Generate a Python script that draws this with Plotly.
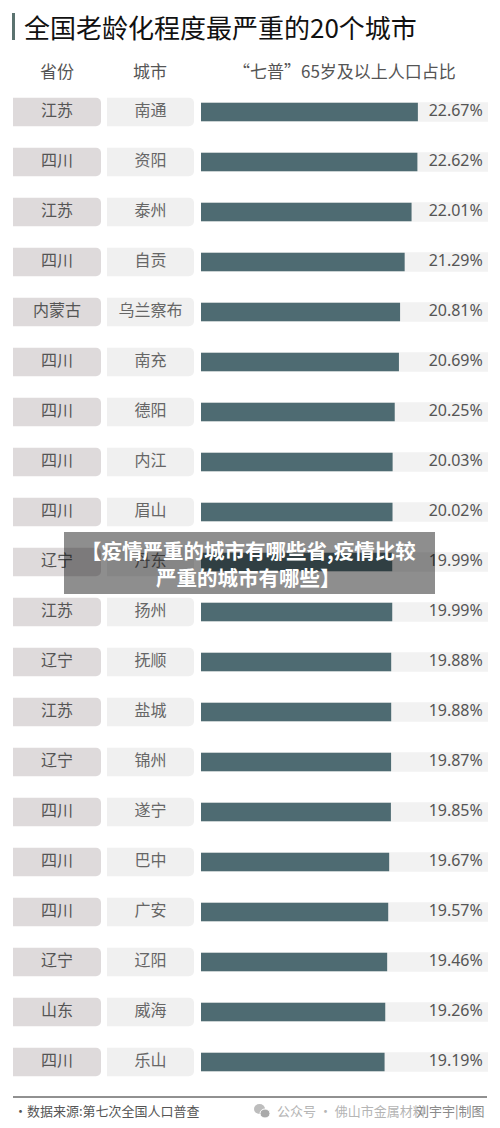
import plotly.graph_objects as go

title = "全国老龄化程度最严重的20个城市"
headers = ["省份", "城市", "“七普”65岁及以上人口占比"]
provinces = ["江苏", "四川", "江苏", "四川", "内蒙古", "四川", "四川", "四川", "四川", "辽宁",
             "江苏", "辽宁", "江苏", "辽宁", "四川", "四川", "四川", "辽宁", "山东", "四川"]
cities = ["南通", "资阳", "泰州", "自贡", "乌兰察布", "南充", "德阳", "内江", "眉山", "丹东",
          "扬州", "抚顺", "盐城", "锦州", "遂宁", "巴中", "广安", "辽阳", "威海", "乐山"]
values = [22.67, 22.62, 22.01, 21.29, 20.81, 20.69, 20.25, 20.03, 20.02, 19.99,
          19.99, 19.88, 19.88, 19.87, 19.85, 19.67, 19.57, 19.46, 19.26, 19.19]
axis_max = 30
source = "·数据来源:第七次全国人口普查"
credit1 = "公众号 · 佛山市金属材料"
credit2 = "刘宇宇|制图"
overlay_text = "【疫情严重的城市有哪些省,疫情比较<br>严重的城市有哪些】"

W, H = 500, 1128
FONT = "Noto Sans CJK SC"
n = len(cities)

def px(x):
    return x / W

def py(y):
    return 1 - y / H

# y axis: row i centered at 112 + 50*i px
y0 = -112 / 50
y1 = (H - 112) / 50

fig = go.Figure()

# province boxes
fig.add_trace(go.Bar(x=[1] * n, y=cities, orientation="h", xaxis="x2", yaxis="y",
                     width=0.57, marker=dict(color="#dedadb", cornerradius=5, line_width=0),
                     hoverinfo="skip", showlegend=False))
fig.add_trace(go.Scatter(x=[0.5] * n, y=cities, xaxis="x2", yaxis="y", mode="text",
                         text=provinces, textposition="middle center",
                         textfont=dict(family=FONT, size=16, color="#555555"),
                         hoverinfo="skip", showlegend=False))
# city boxes
fig.add_trace(go.Bar(x=[1] * n, y=cities, orientation="h", xaxis="x3", yaxis="y",
                     width=0.57, marker=dict(color="#f0f0f0", cornerradius=5, line_width=0),
                     hoverinfo="skip", showlegend=False))
fig.add_trace(go.Scatter(x=[0.5] * n, y=cities, xaxis="x3", yaxis="y", mode="text",
                         text=cities, textposition="middle center",
                         textfont=dict(family=FONT, size=16, color="#666666"),
                         hoverinfo="skip", showlegend=False))
# background bars
fig.add_trace(go.Bar(x=[axis_max] * n, y=cities, orientation="h", xaxis="x", yaxis="y",
                     width=0.39, marker=dict(color="#f2f2f2", line_width=0),
                     hoverinfo="skip", showlegend=False))
# value bars
fig.add_trace(go.Bar(x=values, y=cities, orientation="h", xaxis="x", yaxis="y",
                     width=0.37, marker=dict(color="#4e6b72", line_width=0),
                     hoverinfo="skip", showlegend=False))
fig.add_trace(go.Scatter(x=[axis_max * 0.982] * n, y=cities, xaxis="x", yaxis="y", mode="text",
                         text=[f"{v:.2f}%" for v in values], textposition="middle left",
                         textfont=dict(family="Noto Sans", size=16, color="#555555"),
                         hoverinfo="skip", showlegend=False))

shapes = [
    # title accent bar
    dict(type="rect", xref="paper", yref="paper", x0=px(12), x1=px(15), y0=py(13), y1=py(40),
         fillcolor="#5b7370", line_width=0),
    # footer rule
    dict(type="line", xref="paper", yref="paper", x0=px(13), x1=px(487), y0=py(1097), y1=py(1097),
         line=dict(color="#222222", width=1)),
    # wechat icon
    dict(type="circle", xref="paper", yref="paper", x0=px(254), x1=px(265), y0=py(1114), y1=py(1104),
         fillcolor="#bdbdbd", line_width=0),
    dict(type="circle", xref="paper", yref="paper", x0=px(260), x1=px(270), y0=py(1118), y1=py(1109),
         fillcolor="#a9a9a9", line=dict(color="white", width=1)),
    # overlay box
    dict(type="rect", xref="paper", yref="paper", x0=px(64), x1=px(435), y0=py(532), y1=py(594),
         fillcolor="rgba(15,15,15,0.47)", line_width=0, layer="above"),
]

annotations = [
    dict(text=title, x=px(22), y=py(27), xref="paper", yref="paper", xanchor="left", yanchor="middle",
         showarrow=False, font=dict(family=FONT, size=26, color="#111111")),
    dict(text=headers[0], x=px(57), y=py(70), xref="paper", yref="paper", xanchor="center", yanchor="middle",
         showarrow=False, font=dict(family=FONT, size=17, color="#555555")),
    dict(text=headers[1], x=px(150), y=py(70), xref="paper", yref="paper", xanchor="center", yanchor="middle",
         showarrow=False, font=dict(family=FONT, size=17, color="#555555")),
    dict(text=headers[2], x=px(344), y=py(70), xref="paper", yref="paper", xanchor="center", yanchor="middle",
         showarrow=False, font=dict(family=FONT, size=17, color="#555555")),
    dict(text=source, x=px(12), y=py(1110), xref="paper", yref="paper", xanchor="left", yanchor="middle",
         showarrow=False, font=dict(family=FONT, size=13, color="#555555")),
    dict(text=credit1, x=px(275), y=py(1110), xref="paper", yref="paper", xanchor="left", yanchor="middle",
         showarrow=False, font=dict(family=FONT, size=13, color="#b5b5b5")),
    dict(text=credit2, x=px(487), y=py(1110), xref="paper", yref="paper", xanchor="right", yanchor="middle",
         showarrow=False, font=dict(family=FONT, size=13, color="#8a8a8a")),
    dict(text="<b>" + overlay_text + "</b>", x=px(248), y=py(563), xref="paper", yref="paper",
         xanchor="center", yanchor="middle", align="center", showarrow=False,
         font=dict(family=FONT, size=20.5, color="white")),
]

fig.update_layout(
    width=W, height=H, margin=dict(l=0, r=0, t=0, b=0),
    paper_bgcolor="white", plot_bgcolor="white",
    barmode="overlay", showlegend=False,
    shapes=shapes, annotations=annotations,
    xaxis=dict(domain=[px(201), px(488)], range=[0, axis_max], visible=False, fixedrange=True),
    xaxis2=dict(domain=[px(13), px(101)], range=[0, 1], visible=False, fixedrange=True),
    xaxis3=dict(domain=[px(107), px(194)], range=[0, 1], visible=False, fixedrange=True),
    yaxis=dict(domain=[0, 1], range=[y1, y0], type="category", categoryorder="array",
               categoryarray=cities, visible=False, fixedrange=True),
)

fig.write_html("out.html", config={"displayModeBar": False},
               post_script="document.body.style.margin='0';document.body.style.padding='0';")
